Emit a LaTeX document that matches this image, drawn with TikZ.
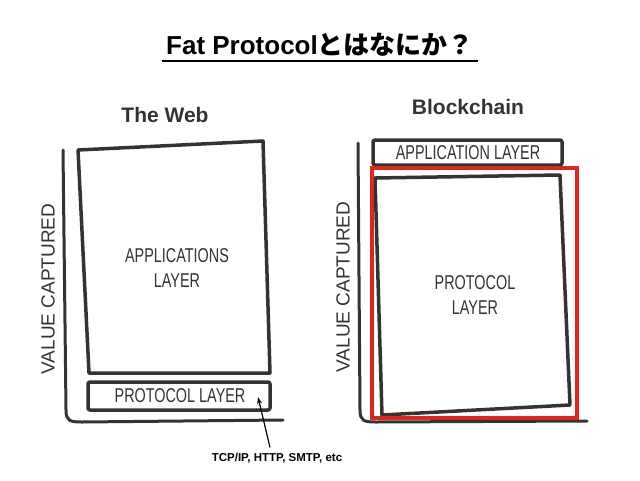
\documentclass[tikz,border=0pt]{standalone}
\usepackage{fontspec}
\setmainfont{Liberation Sans}
\newfontfamily\cjk{Noto Sans CJK JP}
\newfontfamily\hand{Liberation Sans}[FakeStretch=0.72]
\usetikzlibrary{arrows.meta}
\definecolor{ink}{HTML}{333333}
\definecolor{marker}{HTML}{E0261B}
\begin{document}
\begin{tikzpicture}[x=1pt,y=-1pt,
	sketch/.style={draw=ink, line width=3.5pt, line join=round, line cap=round},
	axisline/.style={draw=ink, line width=3pt, line cap=round},
	handtext/.style={text=ink, font=\hand\fontsize{20}{25}\selectfont, align=center},
	axislabel/.style={text=ink, font=\fontsize{19}{22}\selectfont, rotate=90},
	heading/.style={text=ink, font=\fontsize{21}{24}\selectfont\bfseries}]

				\useasboundingbox (0,0) rectangle (640,480);

				% Title

				\node[font=\fontsize{26}{30}\selectfont\bfseries] (title) at (320,45) {Fat Protocol{\cjk\bfseries とはなにか？}};
				\draw[line width=1.5pt] (162,61) -- (478,61);


				% The Web


				\coordinate (wA) at (78,150);
				\coordinate (wB) at (263,141);
				\coordinate (wC) at (270,373);
				\coordinate (wD) at (89,373);
				\coordinate (tip) at (258,397);

				\node[heading] (web) at (165,115) {The Web};

				\draw[axisline] (63,150) -- (66,410) .. controls (66,421) and (70,422) .. (82,422) -- (283,420);
				\node[axislabel] (wval) at (48,289) {VALUE CAPTURED};

				\draw[sketch] (wA) -- (wB) -- (wC) -- (wD) -- cycle;
				\node[handtext] (wapp) at (177,268) {APPLICATIONS\\LAYER};

				\draw[sketch, rounded corners=2pt] (88,382) rectangle (270,410);
				\node[handtext] (wproto) at (180,396) {PROTOCOL LAYER};

				\node[font=\fontsize{11.5}{13}\selectfont\bfseries] (tcp) at (277,458) {TCP/IP, HTTP, SMTP, etc};
				\draw[-{Stealth[length=7pt,width=5pt]}, line width=1.2pt] ([xshift=-7pt,yshift=2pt]tcp.north) -- (tip);


				% Blockchain


				\coordinate (bA) at (375,178);
				\coordinate (bB) at (560,175);
				\coordinate (bC) at (570,405);
				\coordinate (bD) at (382,415);

				\node[heading] (chain) at (468,107) {Blockchain};

				\draw[axisline] (358,143) -- (360,410) .. controls (360,421) and (364,422) .. (376,422) -- (587,421);
				\node[axislabel] (bval) at (343,287) {VALUE CAPTURED};

				\draw[sketch, rounded corners=2pt] (373,140) rectangle (562,165);
				\node[handtext] (bapp) at (468,153) {APPLICATION LAYER};

				\draw[sketch] (bA) -- (bB) -- (bC) -- (bD) -- cycle;
				\node[handtext] (bproto) at (475,295) {PROTOCOL\\LAYER};

				\draw[draw=marker, line width=4pt] (372,168) rectangle (577,418);


			\end{tikzpicture}
\end{document}
